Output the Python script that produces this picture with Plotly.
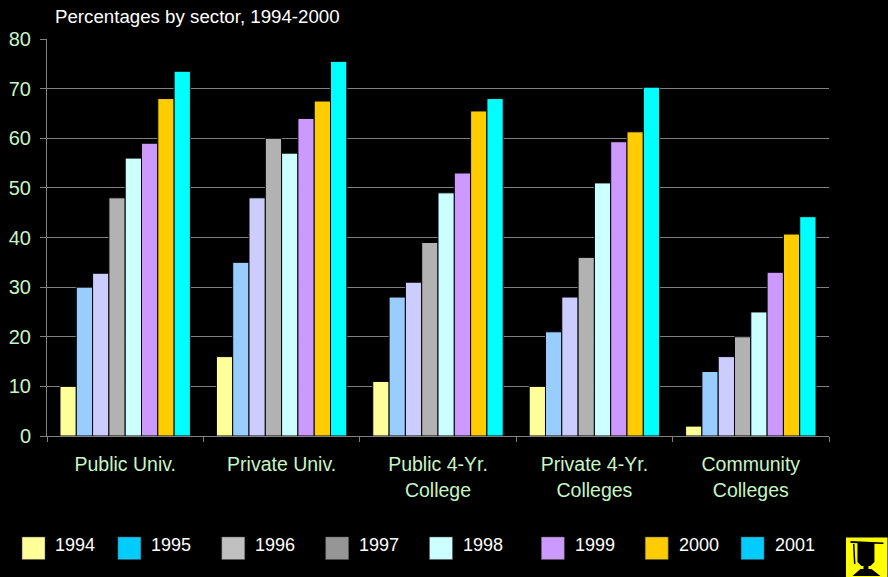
import plotly.graph_objects as go

categories = ["Public Univ.", "Private Univ.", "Public 4-Yr.<br>College", "Private 4-Yr.<br>Colleges", "Community<br>Colleges"]
years = ["1994", "1995", "1996", "1997", "1998", "1999", "2000", "2001"]
v1994 = [10, 16, 11, 10, 2]
v1995 = [30, 35, 28, 21, 13]
v1996 = [32.8, 48, 31, 28, 16]
v1997 = [48, 60, 39, 36, 20]
v1998 = [56, 57, 49, 51, 25]
v1999 = [59, 64, 53, 59.3, 33]
v2000 = [68, 67.5, 65.5, 61.3, 40.7]
v2001 = [73.5, 75.5, 68, 70.3, 44.2]
series = [v1994, v1995, v1996, v1997, v1998, v1999, v2000, v2001]
bar_colors = ["#FFFF99", "#99CCFF", "#CCCCFF", "#B2B2B2", "#CCFFFF", "#CC99FF", "#FFCC00", "#00FFFF"]
key_colors = ["#FFFF99", "#00CCFF", "#C0C0C0", "#969696", "#CCFFFF", "#CC99FF", "#FFCC00", "#00CCFF"]
key_left = [21, 117, 221, 325, 429, 541, 645, 741]

W, H = 888, 577
L, R, T, B = 46.5, 829.5, 39, 436
FONT = "Liberation Sans, Arial, sans-serif"
GREEN = "#C6F5C6"
GREY = "#808080"

fig = go.Figure()
for y, s, c in zip(years, series, bar_colors):
    fig.add_bar(x=categories, y=s, name=y, marker=dict(color=c, line=dict(color="#000000", width=1)))

def px(x): return (x - L) / (R - L)
def py(y): return (B - y) / (B - T)

shapes, ann = [], []
for y, c, x0 in zip(years, key_colors, key_left):
    shapes.append(dict(type="rect", xref="paper", yref="paper", x0=px(x0 + .5), x1=px(x0 + 23.5),
                       y0=py(537), y1=py(559.5), fillcolor=c, line=dict(color="#555555", width=0.5)))
    ann.append(dict(text=y, xref="paper", yref="paper", x=px(x0 + 34), y=py(545), xanchor="left", yanchor="middle",
                    showarrow=False, font=dict(family=FONT, size=18, color="#FFFFFF"), borderpad=0, borderwidth=0))
ann.append(dict(text="Percentages by sector, 1994-2000", xref="paper", yref="paper", x=px(53.5), y=py(16.5),
                xanchor="left", yanchor="middle", showarrow=False, font=dict(family=FONT, size=18.7, color="#FFFFFF"), borderpad=0))

# corner icon: yellow tile with a black mortarboard
shapes.append(dict(type="rect", xref="paper", yref="paper", x0=px(846.5), x1=px(888), y0=py(537.5), y1=py(577),
                   fillcolor="#FFFF00", line=dict(width=0)))
def poly(pts):
    return "M " + " L ".join(f"{px(a):.5f} {py(b):.5f}" for a, b in pts) + " Z"
for pts in [[(851, 541), (884, 542.5), (884, 544), (851, 543)],
            [(858, 543), (875, 543), (875, 562), (871, 566), (862, 566), (858, 562)],
            [(853.5, 544), (855, 544), (856, 564), (854.5, 564)],
            [(864, 566), (869, 566), (869, 569), (864, 569)],
            [(861, 569), (872, 569), (881, 576), (853, 576)]]:
    shapes.append(dict(type="path", xref="paper", yref="paper", path=poly(pts), fillcolor="#000000", line=dict(width=0)))

fig.update_layout(
    width=W, height=H, autosize=False, paper_bgcolor="#000000", plot_bgcolor="#000000",
    barmode="group", bargap=0.166, bargroupgap=0, showlegend=False,
    margin=dict(l=L, r=W - R, t=T, b=H - B),
    font=dict(family=FONT), shapes=shapes, annotations=ann,
    xaxis=dict(type="category", tickson="boundaries", ticks="outside", ticklen=5, tickwidth=1, tickcolor=GREY,
               showline=True, linecolor=GREY, linewidth=1, tickfont=dict(family=FONT, size=19.5, color=GREEN),
               showgrid=False, automargin=False, ticklabelstandoff=11),
    yaxis=dict(range=[0, 80], dtick=10, ticks="outside", ticklen=6, tickwidth=1, tickcolor=GREY, showline=True,
               linecolor=GREY, linewidth=1, gridcolor=GREY, gridwidth=1, zeroline=False,
               tickfont=dict(family=FONT, size=20, color=GREEN), automargin=False, ticklabelstandoff=5),
)
fig.write_html("out.html", config=dict(displayModeBar=False),
               post_script="document.body.style.margin='0';document.body.style.overflow='hidden';")
